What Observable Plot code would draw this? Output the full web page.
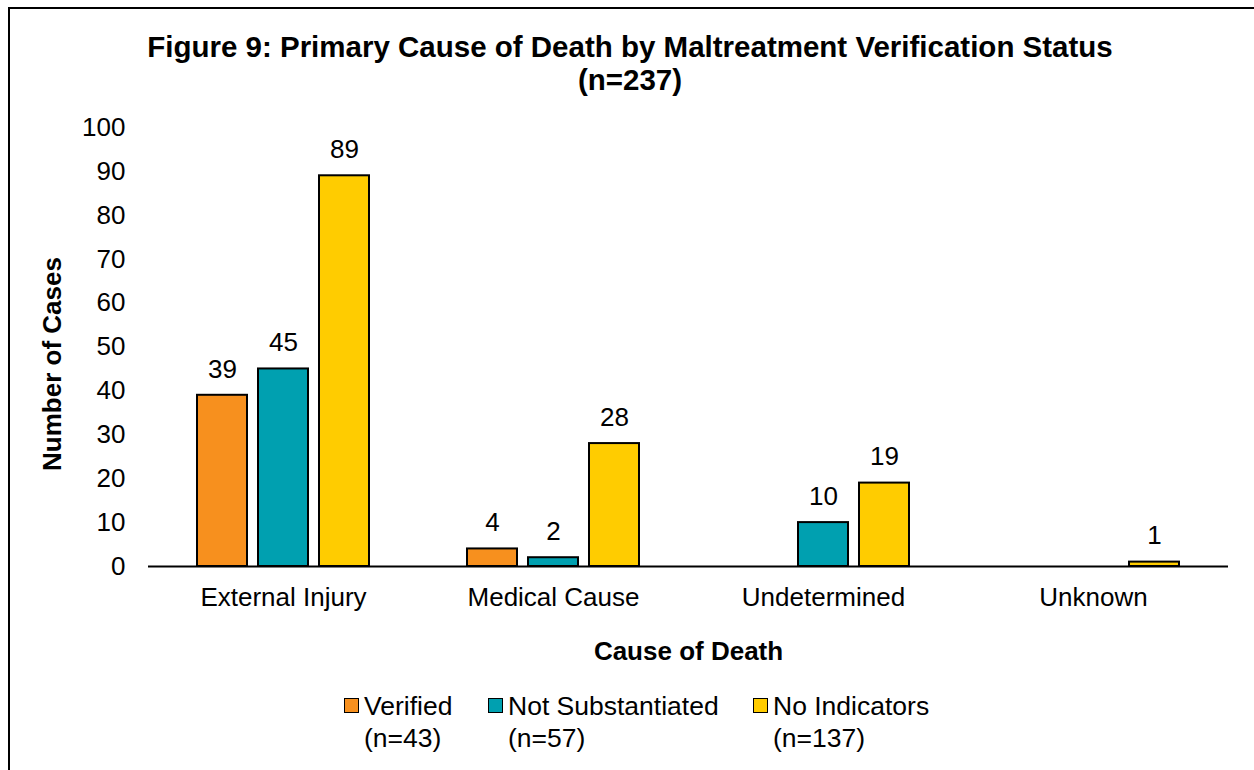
<!DOCTYPE html>
<html><head><meta charset="utf-8">
<script src="https://cdn.jsdelivr.net/npm/d3@7"></script>
<script src="https://cdn.jsdelivr.net/npm/@observablehq/plot@0.6"></script>
<style>
body{margin:0;background:#fff;font-family:"Liberation Sans",Arial,sans-serif;color:#000;}
#frame{position:relative;width:1254px;height:770px;overflow:hidden;background:#fff;}
#border{position:absolute;left:8px;top:7px;width:1300px;height:800px;border-left:2px solid #000;border-top:2px solid #000;}
#title{position:absolute;top:30px;left:0;width:1260px;text-align:center;font-weight:bold;font-size:29.5px;line-height:33px;}
#chart{position:absolute;top:105px;left:0;}
#ylabel{position:absolute;left:52px;top:364px;transform:translate(-50%,-50%) rotate(-90deg);font-weight:bold;font-size:26px;white-space:nowrap;}
#legend{position:absolute;top:690px;left:344px;display:flex;font-size:26.5px;line-height:32px;}
.item{display:flex;align-items:flex-start;}
.sw{width:13px;height:13px;border:1.5px solid #000;margin-top:8px;margin-right:5px;flex:none;}
g[aria-label="fx-axis label"] text{font-weight:bold;}
</style>
</head><body>
<div id="frame">
  <div id="border"></div>
  <div id="title">Figure 9: Primary Cause of Death by Maltreatment Verification Status<br>(n=237)</div>
  <div id="chart"></div>
  <div id="ylabel">Number of Cases</div>
  <div id="legend"></div>
</div>
<script>
const causes = ["External Injury", "Medical Cause", "Undetermined", "Unknown"];
const statuses = ["Verified", "Not Substantiated", "No Indicators"];
const statusCounts = ["(n=43)", "(n=57)", "(n=137)"];
const verified = [39, 4, 0, 0];
const notSubstantiated = [45, 2, 10, 0];
const noIndicators = [89, 28, 19, 1];
const colors = ["#F7901E", "#00A0B0", "#FFCC00"];
const yTicks = [0, 10, 20, 30, 40, 50, 60, 70, 80, 90, 100];

const series = [verified, notSubstantiated, noIndicators];
const rows = [];
causes.forEach((c, i) => {
  statuses.forEach((s, j) => {
    const v = series[j][i];
    if (v > 0) rows.push({cause: c, status: s, value: v});
  });
});

const font = '"Liberation Sans", Arial, sans-serif';
const chart = Plot.plot({
  width: 1254,
  height: 565,
  marginTop: 22,
  marginBottom: 104,
  marginLeft: 148,
  marginRight: 26,
  style: {fontFamily: font, fontSize: "26px", color: "#000", background: "transparent", overflow: "visible"},
  fx: {domain: causes, padding: 0},
  x: {domain: statuses, axis: null, paddingInner: 0.177, paddingOuter: 0.766},
  y: {domain: [0, 100]},
  color: {domain: statuses, range: colors},
  marks: [
    Plot.axisY({ticks: yTicks, tickSize: 0, tickPadding: 23, label: null, fill: "#000", fontSize: 26}),
    Plot.axisFx({anchor: "bottom", tickSize: 0, tickPadding: 21, label: "Cause of Death", labelAnchor: "center", labelOffset: 93, fill: "#000", fontSize: 26}),
    Plot.barY(rows, {fx: "cause", x: "status", y: "value", fill: "status", stroke: "#000", strokeWidth: 2}),
    Plot.ruleY([0], {stroke: "#000", strokeWidth: 2}),
    Plot.text(rows, {fx: "cause", x: "status", y: "value", text: d => String(d.value), dy: -26, fontSize: 26, fill: "#000"})
  ]
});
document.getElementById("chart").appendChild(chart);

const legend = document.getElementById("legend");
const itemWidths = [144, 265, null];
statuses.forEach((s, j) => {
  const item = document.createElement("div");
  item.className = "item";
  if (itemWidths[j]) item.style.width = itemWidths[j] + "px";
  const sw = document.createElement("div");
  sw.className = "sw";
  sw.style.background = colors[j];
  const t = document.createElement("div");
  t.innerHTML = s + "<br>" + statusCounts[j];
  item.appendChild(sw);
  item.appendChild(t);
  legend.appendChild(item);
});
</script>
</body></html>
